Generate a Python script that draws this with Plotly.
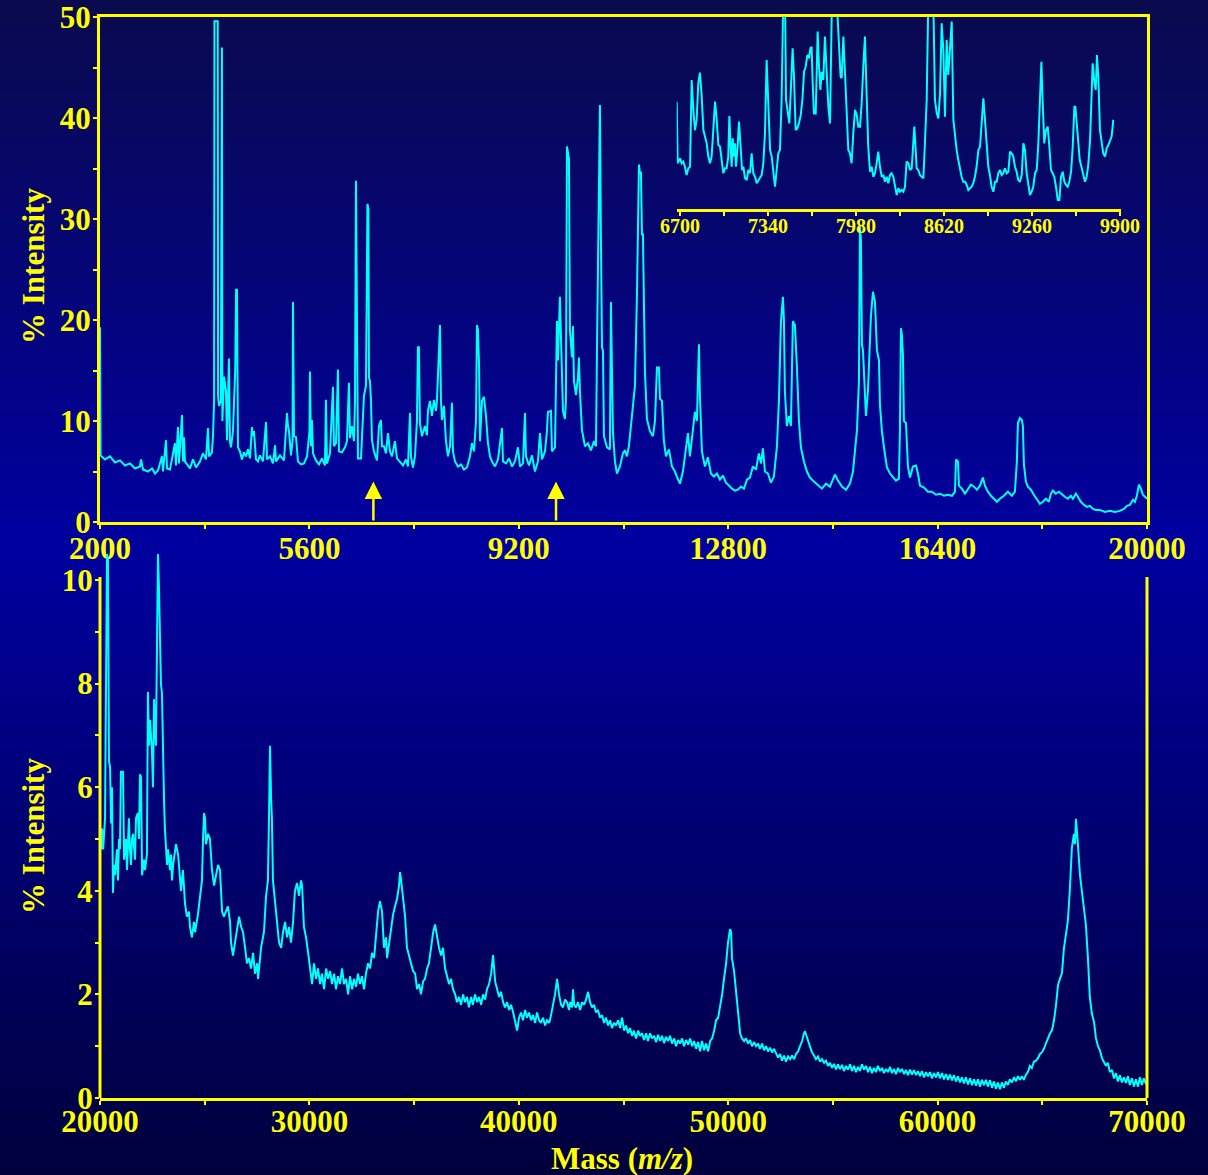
import plotly.graph_objects as go

# ---------------- data ----------------
# Low-mass spectrum, 2000-20000 m/z: (mass, % intensity)
low_mass_spectrum = [
    (2000, 19.3), (2010, 6.6), (2086, 6.2), (2172, 6.5), (2258, 5.9), (2344, 6.1), (2430, 5.6), (2516, 5.8),
    (2602, 5.3), (2688, 5.5), (2705, 6.2), (2739, 5.2), (2825, 5.0), (2894, 5.3), (2946, 4.8), (2997, 5.1),
    (3066, 6.5), (3083, 5.0), (3135, 8.1), (3152, 5.3), (3203, 5.2), (3289, 7.8), (3306, 5.6), (3341, 9.4),
    (3358, 5.8), (3410, 10.6), (3427, 6.0), (3444, 8.4), (3461, 6.0), (3547, 5.3), (3599, 6.2), (3650, 5.4),
    (3719, 6.0), (3771, 6.8), (3822, 6.2), (3857, 9.3), (3874, 6.5), (3925, 6.9), (3943, 8.6), (3962, 12.0),
    (3968, 49.6), (4024, 49.6), (4030, 12.5), (4046, 11.5), (4078, 12.0), (4086, 47.0), (4096, 47.0), (4104, 10.0),
    (4132, 14.4), (4166, 13.0), (4183, 8.1), (4217, 16.2), (4234, 8.0), (4252, 7.4), (4286, 9.0), (4325, 15.0),
    (4340, 23.0), (4355, 23.0), (4372, 7.4), (4406, 7.0), (4441, 6.2), (4475, 6.9), (4510, 6.5), (4544, 7.2),
    (4579, 6.3), (4613, 9.4), (4630, 8.5), (4647, 9.0), (4682, 6.2), (4716, 6.0), (4750, 6.6), (4802, 6.0),
    (4854, 9.9), (4871, 6.2), (4923, 6.5), (4974, 5.8), (5009, 7.6), (5026, 6.0), (5094, 6.6), (5163, 6.1),
    (5215, 10.8), (5232, 9.5), (5249, 9.0), (5284, 6.6), (5310, 8.0), (5318, 21.8), (5335, 8.5), (5370, 8.4),
    (5404, 6.0), (5456, 5.7), (5507, 5.8), (5559, 6.5), (5602, 9.0), (5610, 14.9), (5627, 7.5), (5645, 10.1),
    (5662, 6.8), (5713, 6.1), (5765, 5.7), (5816, 6.3), (5868, 5.6), (5885, 12.1), (5902, 5.8), (5954, 6.8),
    (6005, 13.4), (6022, 7.5), (6057, 7.8), (6091, 15.1), (6108, 7.0), (6160, 6.9), (6212, 7.4), (6246, 8.0),
    (6280, 13.8), (6298, 8.3), (6332, 9.5), (6366, 8.0), (6384, 12.0), (6401, 33.8), (6418, 12.0), (6435, 6.3),
    (6487, 6.3), (6521, 11.8), (6538, 12.5), (6573, 13.5), (6598, 31.5), (6615, 31.0), (6624, 14.3), (6641, 14.0),
    (6659, 12.0), (6676, 8.1), (6710, 7.0), (6762, 6.1), (6796, 9.5), (6830, 10.1), (6848, 7.5), (6882, 7.5),
    (6916, 6.8), (6951, 8.8), (6985, 7.0), (7020, 6.5), (7071, 8.0), (7106, 6.3), (7157, 6.0), (7209, 5.6),
    (7260, 6.2), (7295, 5.5), (7329, 10.8), (7346, 6.5), (7380, 5.4), (7415, 6.5), (7449, 10.0), (7466, 17.3),
    (7483, 17.3), (7500, 9.8), (7535, 8.5), (7586, 9.5), (7621, 8.6), (7638, 11.0), (7673, 12.0), (7707, 10.5),
    (7741, 12.1), (7776, 11.0), (7793, 12.0), (7827, 16.0), (7845, 19.5), (7862, 12.0), (7879, 10.1), (7913, 11.5),
    (7948, 8.0), (7982, 6.5), (8017, 7.5), (8051, 11.8), (8068, 7.0), (8103, 6.0), (8154, 5.5), (8206, 5.7),
    (8258, 5.2), (8309, 5.4), (8361, 6.5), (8395, 7.8), (8430, 7.0), (8464, 10.0), (8481, 19.5), (8498, 19.0),
    (8516, 15.7), (8533, 8.0), (8567, 12.0), (8601, 12.4), (8636, 10.5), (8670, 7.8), (8705, 6.5), (8739, 6.0),
    (8791, 5.5), (8842, 6.2), (8911, 9.3), (8928, 6.0), (8980, 5.8), (9031, 6.3), (9083, 5.5), (9134, 6.0),
    (9186, 7.4), (9220, 5.5), (9272, 5.8), (9306, 10.8), (9323, 6.5), (9375, 5.6), (9426, 6.6), (9478, 5.0),
    (9529, 6.0), (9564, 8.8), (9598, 6.2), (9650, 7.0), (9684, 9.0), (9701, 10.9), (9753, 11.0), (9770, 7.0),
    (9822, 7.4), (9856, 19.9), (9873, 16.0), (9907, 22.3), (9924, 19.0), (9942, 16.6), (9959, 11.0), (9993, 10.2),
    (10010, 12.0), (10028, 37.2), (10045, 36.3), (10062, 36.0), (10079, 19.0), (10114, 16.3), (10131, 19.4),
    (10148, 14.0), (10183, 12.6), (10217, 14.3), (10234, 16.3), (10251, 13.0), (10286, 9.1), (10338, 7.5),
    (10389, 7.8), (10441, 7.1), (10492, 8.0), (10527, 7.5), (10544, 17.0), (10561, 24.0), (10578, 30.0),
    (10595, 41.3), (10612, 28.0), (10630, 17.3), (10647, 17.0), (10664, 8.5), (10716, 7.4), (10767, 7.2),
    (10784, 21.8), (10801, 15.9), (10818, 9.0), (10853, 6.0), (10887, 4.8), (10939, 5.5), (10990, 6.8),
    (11025, 7.1), (11059, 6.5), (11093, 7.5), (11128, 9.5), (11162, 10.9), (11197, 13.5), (11231, 22.4),
    (11266, 35.4), (11283, 34.5), (11300, 34.7), (11317, 28.5), (11334, 28.5), (11369, 14.9), (11403, 10.2),
    (11455, 9.0), (11506, 8.5), (11541, 10.0), (11575, 15.3), (11609, 15.3), (11627, 12.2), (11661, 12.0),
    (11695, 8.0), (11730, 6.5), (11781, 7.2), (11833, 5.5), (11884, 5.0), (11918, 4.5), (11970, 3.8),
    (12022, 5.0), (12073, 7.0), (12108, 8.8), (12142, 6.5), (12194, 9.5), (12228, 10.9), (12262, 10.0),
    (12297, 17.6), (12314, 12.5), (12348, 7.0), (12400, 5.5), (12452, 6.4), (12503, 4.8), (12555, 4.5),
    (12606, 4.8), (12658, 4.2), (12710, 4.6), (12761, 3.9), (12813, 3.6), (12864, 3.3), (12916, 3.1),
    (12967, 3.2), (13019, 3.5), (13071, 3.3), (13122, 4.2), (13174, 4.4), (13225, 5.5), (13277, 5.2),
    (13328, 6.8), (13363, 5.8), (13397, 7.3), (13432, 5.0), (13483, 4.8), (13535, 3.9), (13586, 4.5),
    (13638, 7.5), (13672, 12.0), (13706, 19.7), (13741, 22.3), (13758, 20.0), (13775, 12.9), (13809, 9.5),
    (13844, 10.5), (13878, 9.5), (13912, 19.9), (13947, 19.5), (13981, 15.4), (14016, 10.0), (14050, 7.4),
    (14102, 6.0), (14153, 5.0), (14205, 4.4), (14274, 4.0), (14343, 3.6), (14412, 3.3), (14481, 3.8),
    (14549, 3.5), (14600, 4.2), (14635, 4.7), (14687, 4.1), (14756, 3.5), (14825, 3.2), (14893, 3.8),
    (14945, 5.0), (14979, 7.0), (15014, 9.1), (15048, 14.0), (15065, 29.2), (15082, 28.0), (15099, 17.6),
    (15117, 17.0), (15151, 12.0), (15168, 10.5), (15203, 13.0), (15237, 17.0), (15254, 20.4), (15289, 22.8),
    (15323, 21.8), (15357, 17.0), (15392, 16.0), (15409, 11.6), (15443, 9.0), (15478, 7.4), (15529, 5.4),
    (15581, 4.8), (15632, 4.4), (15684, 4.1), (15735, 4.3), (15752, 9.0), (15770, 19.2), (15787, 18.5),
    (15804, 16.6), (15821, 10.0), (15856, 9.8), (15873, 7.0), (15890, 5.5), (15925, 4.4), (15976, 5.5),
    (16028, 5.6), (16062, 4.8), (16097, 3.6), (16166, 3.4), (16234, 3.0), (16303, 3.0), (16372, 2.7),
    (16441, 2.8), (16510, 2.6), (16578, 2.7), (16647, 2.6), (16699, 3.0), (16716, 6.2), (16750, 6.0),
    (16767, 3.6), (16819, 3.3), (16870, 2.8), (16922, 3.2), (16973, 3.7), (17025, 3.5), (17076, 3.2),
    (17128, 3.6), (17179, 4.4), (17214, 3.6), (17265, 3.0), (17317, 2.6), (17368, 2.3), (17420, 2.0),
    (17471, 2.3), (17540, 2.6), (17609, 3.0), (17677, 2.6), (17729, 3.0), (17763, 6.0), (17781, 9.8),
    (17815, 10.3), (17849, 10.1), (17866, 9.5), (17884, 5.7), (17918, 4.0), (17952, 3.5), (18004, 3.2),
    (18055, 2.7), (18107, 2.3), (18159, 1.8), (18210, 2.0), (18262, 2.3), (18313, 2.0), (18348, 2.8),
    (18382, 3.1), (18433, 2.8), (18485, 3.0), (18537, 2.7), (18588, 2.5), (18640, 2.3), (18691, 2.6),
    (18726, 2.3), (18777, 2.8), (18812, 2.5), (18863, 2.0), (18915, 1.7), (18966, 1.5), (19018, 1.6),
    (19070, 1.3), (19121, 1.2), (19190, 1.2), (19276, 1.0), (19362, 1.1), (19448, 1.0), (19534, 1.1),
    (19603, 1.3), (19655, 1.6), (19706, 1.7), (19758, 2.2), (19792, 2.0), (19826, 2.6), (19861, 3.7),
    (19895, 3.3), (19930, 2.7), (19964, 2.5), (20000, 2.3),
]

# Expanded view of the 6700-9900 m/z window: (mass, relative intensity)
inset_spectrum = [
    (6676, 55.9), (6683, 23.8), (6700, 26.4), (6712, 23.8), (6724, 24.7), (6736, 22.0), (6748, 17.7),
    (6761, 21.2), (6773, 22.0), (6785, 67.2), (6797, 51.6), (6809, 41.1), (6821, 46.4), (6833, 65.5),
    (6845, 71.0), (6858, 58.5), (6870, 41.1), (6882, 37.7), (6894, 34.2), (6906, 27.3), (6918, 23.8),
    (6930, 27.3), (6942, 39.4), (6955, 55.9), (6967, 46.4), (6979, 33.3), (6991, 32.5), (7003, 25.5),
    (7015, 18.6), (7027, 21.2), (7039, 21.2), (7051, 27.3), (7059, 48.4), (7068, 32.5), (7076, 22.0),
    (7083, 36.8), (7093, 27.3), (7100, 34.2), (7107, 22.0), (7119, 32.5), (7129, 45.5), (7141, 32.5),
    (7151, 20.3), (7161, 22.0), (7173, 16.0), (7185, 15.1), (7197, 20.3), (7209, 18.6), (7221, 29.0),
    (7233, 18.6), (7246, 16.8), (7258, 13.4), (7270, 15.1), (7282, 16.8), (7294, 17.7), (7306, 23.8),
    (7318, 39.4), (7330, 77.6), (7343, 49.8), (7355, 30.7), (7367, 27.3), (7379, 18.6), (7391, 11.6),
    (7403, 20.3), (7415, 29.0), (7427, 30.7), (7439, 56.8), (7451, 110), (7464, 110), (7471, 56.8),
    (7483, 51.6), (7495, 44.6), (7505, 60.2), (7519, 83.7), (7529, 68.9), (7541, 41.1), (7553, 42.0),
    (7565, 44.6), (7578, 49.0), (7590, 56.8), (7602, 71.5), (7614, 74.1), (7626, 80.2), (7638, 78.5),
    (7648, 83.7), (7657, 84.5), (7665, 65.5), (7674, 49.8), (7687, 49.8), (7694, 74.1), (7701, 92.4),
    (7711, 74.1), (7721, 62.0), (7730, 71.5), (7742, 67.2), (7754, 89.8), (7767, 72.4), (7779, 53.3),
    (7791, 44.6), (7798, 74.1), (7805, 110), (7839, 110), (7856, 88.0), (7868, 68.9), (7876, 68.1),
    (7888, 89.8), (7900, 70.7), (7912, 48.1), (7924, 30.7), (7936, 29.0), (7948, 23.8), (7960, 39.4),
    (7973, 51.6), (7985, 49.0), (7997, 42.9), (8009, 42.9), (8021, 55.0), (8033, 74.1), (8045, 89.8),
    (8057, 60.2), (8069, 32.5), (8082, 19.4), (8094, 22.0), (8106, 16.8), (8118, 18.6), (8130, 23.8),
    (8142, 29.9), (8154, 22.0), (8167, 16.8), (8179, 17.7), (8191, 14.2), (8203, 16.8), (8215, 13.4),
    (8227, 17.7), (8239, 18.6), (8251, 16.8), (8264, 12.5), (8276, 7.3), (8288, 10.8), (8300, 9.0),
    (8312, 9.9), (8324, 9.0), (8336, 11.6), (8348, 24.7), (8361, 23.8), (8373, 20.3), (8385, 21.2),
    (8397, 32.5), (8404, 42.9), (8414, 30.7), (8421, 21.2), (8433, 20.3), (8445, 17.7), (8458, 16.8),
    (8470, 16.0), (8482, 35.9), (8494, 56.8), (8506, 110), (8542, 110), (8554, 56.8), (8567, 49.8),
    (8579, 47.2), (8591, 60.2), (8603, 96.7), (8615, 82.8), (8627, 48.1), (8639, 88.0), (8651, 69.8),
    (8663, 86.3), (8676, 97.6), (8688, 46.4), (8700, 37.7), (8712, 30.7), (8724, 25.5), (8736, 20.3),
    (8748, 16.8), (8760, 14.2), (8773, 14.2), (8785, 12.5), (8797, 9.9), (8809, 10.8), (8821, 11.6),
    (8833, 13.4), (8845, 16.8), (8857, 22.0), (8870, 30.7), (8882, 32.5), (8894, 42.9), (8906, 57.6),
    (8918, 46.4), (8930, 30.7), (8942, 22.0), (8954, 17.7), (8966, 11.6), (8979, 9.0), (8991, 14.2),
    (9003, 14.2), (9015, 18.6), (9027, 20.3), (9039, 17.7), (9051, 18.6), (9063, 21.2), (9076, 18.6),
    (9088, 19.4), (9100, 29.9), (9112, 29.0), (9124, 27.3), (9136, 22.0), (9148, 19.4), (9160, 15.1),
    (9172, 14.2), (9185, 17.7), (9197, 34.2), (9209, 30.7), (9221, 18.6), (9233, 12.5), (9245, 7.3),
    (9257, 9.0), (9269, 11.6), (9282, 18.6), (9294, 20.3), (9306, 34.2), (9318, 56.8), (9328, 76.7),
    (9337, 56.8), (9349, 34.2), (9361, 41.1), (9374, 42.9), (9386, 32.5), (9398, 20.3), (9410, 18.6),
    (9422, 16.8), (9434, 11.6), (9447, 4.7), (9459, 4.7), (9471, 16.8), (9483, 19.4), (9495, 14.2),
    (9507, 12.5), (9519, 11.6), (9531, 14.2), (9544, 19.4), (9556, 32.5), (9568, 53.3), (9575, 53.3),
    (9585, 42.9), (9597, 30.7), (9607, 25.5), (9619, 22.0), (9633, 17.7), (9645, 14.2), (9657, 16.8),
    (9669, 22.9), (9682, 35.9), (9694, 56.8), (9701, 75.9), (9713, 66.3), (9723, 62.0), (9732, 80.2),
    (9742, 68.9), (9754, 41.1), (9766, 35.9), (9778, 29.0), (9791, 27.3), (9803, 31.6), (9815, 33.3),
    (9827, 35.9), (9839, 37.7), (9851, 46.4),
]

# High-mass spectrum, 20000-70000 m/z: (mass, % intensity)
high_mass_spectrum = [
    (20000, 5.2), (20050, 4.8), (20100, 5.2), (20150, 4.8), (20240, 5.4), (20290, 9.0), (20335, 10.5),
    (20380, 10.4), (20430, 6.5), (20480, 6.4), (20530, 5.3), (20575, 6.0), (20620, 3.96), (20670, 4.5),
    (20720, 4.3), (20810, 4.8), (20860, 4.2), (20910, 5.0), (20955, 4.8), (21000, 6.3), (21100, 6.3),
    (21150, 4.6), (21240, 5.0), (21290, 4.4), (21380, 5.4), (21430, 4.8), (21480, 4.5), (21530, 5.0),
    (21580, 5.1), (21670, 4.6), (21720, 5.4), (21810, 5.5), (21860, 5.0), (21910, 6.25), (21960, 6.2),
    (22010, 4.3), (22100, 4.6), (22150, 4.4), (22240, 4.7), (22290, 7.84), (22340, 6.8), (22390, 7.3),
    (22480, 6.7), (22530, 6.0), (22580, 7.7), (22670, 6.8), (22720, 8.6), (22770, 10.5), (22820, 9.8),
    (22860, 8.55), (22910, 8.0), (22960, 7.8), (23010, 6.3), (23060, 5.7), (23100, 5.2), (23200, 4.5),
    (23250, 4.8), (23340, 4.4), (23390, 4.7), (23440, 4.2), (23490, 4.5), (23580, 4.8), (23630, 4.9),
    (23730, 4.7), (23820, 4.3), (23870, 4.0), (23960, 4.4), (24060, 3.75), (24150, 3.5), (24250, 3.6),
    (24300, 3.3), (24390, 3.1), (24490, 3.4), (24540, 3.2), (24680, 3.55), (24780, 3.9), (24870, 4.2),
    (24920, 5.0), (24970, 5.5), (25020, 5.4), (25060, 4.9), (25160, 5.1), (25250, 5.0), (25350, 4.4),
    (25450, 4.1), (25540, 4.3), (25640, 4.5), (25730, 4.4), (25830, 3.6), (25920, 3.5), (26020, 3.6),
    (26110, 3.7), (26210, 3.4), (26260, 3.0), (26350, 2.75), (26450, 3.0), (26540, 3.2), (26640, 3.5),
    (26740, 3.3), (26830, 3.2), (26930, 2.9), (27020, 2.6), (27120, 2.7), (27210, 2.5), (27310, 2.8),
    (27400, 2.4), (27500, 2.6), (27550, 2.3), (27690, 2.9), (27830, 3.2), (27930, 3.9), (28020, 4.2),
    (28070, 5.4), (28120, 6.8), (28170, 5.8), (28210, 5.4), (28260, 4.2), (28360, 3.8), (28450, 3.4),
    (28550, 3.0), (28650, 2.9), (28740, 3.2), (28840, 3.4), (28930, 3.1), (29030, 3.3), (29120, 3.0),
    (29220, 3.4), (29310, 4.0), (29410, 4.15), (29500, 3.9), (29600, 4.2), (29650, 4.1), (29740, 3.3),
    (29840, 3.1), (29940, 2.8), (30030, 2.5), (30130, 2.2), (30220, 2.6), (30320, 2.3), (30410, 2.5),
    (30510, 2.2), (30600, 2.4), (30700, 2.1), (30800, 2.5), (30890, 2.3), (30990, 2.45), (31080, 2.2),
    (31180, 2.4), (31270, 2.1), (31370, 2.35), (31460, 2.2), (31560, 2.5), (31650, 2.2), (31750, 2.3),
    (31850, 2.0), (31940, 2.35), (32040, 2.1), (32130, 2.3), (32230, 2.15), (32320, 2.4), (32420, 2.2),
    (32510, 2.35), (32610, 2.1), (32700, 2.4), (32800, 2.6), (32900, 2.5), (32990, 2.8), (33090, 2.7),
    (33180, 3.1), (33280, 3.6), (33370, 3.8), (33470, 3.6), (33560, 2.9), (33660, 3.1), (33710, 2.7),
    (33800, 3.0), (33900, 3.3), (34000, 3.55), (34090, 3.7), (34190, 3.85), (34280, 4.1), (34330, 4.36),
    (34380, 4.2), (34470, 3.9), (34570, 3.5), (34660, 2.9), (34760, 2.75), (34860, 2.55), (34950, 2.45),
    (35050, 2.4), (35140, 2.1), (35240, 2.2), (35330, 2.0), (35430, 2.25), (35520, 2.3), (35620, 2.5),
    (35710, 2.6), (35810, 2.9), (35910, 3.2), (36000, 3.35), (36100, 3.1), (36190, 2.9), (36290, 2.75),
    (36380, 2.9), (36480, 2.5), (36570, 2.35), (36670, 2.2), (36760, 2.3), (36860, 2.1), (36960, 2.0),
    (37050, 1.85), (37150, 1.95), (37240, 1.8), (37340, 2.0), (37430, 1.85), (37530, 1.95), (37620, 1.75),
    (37720, 1.95), (37810, 1.8), (37910, 2.0), (38010, 1.85), (38100, 1.95), (38200, 1.8), (38290, 2.0),
    (38390, 1.9), (38480, 2.1), (38580, 2.2), (38680, 2.4), (38770, 2.76), (38870, 2.25), (38960, 2.1),
    (39060, 1.95), (39150, 2.05), (39250, 1.85), (39340, 1.75), (39440, 1.85), (39540, 1.7), (39630, 1.8),
    (39730, 1.65), (39820, 1.45), (39920, 1.3), (40010, 1.55), (40110, 1.65), (40200, 1.5), (40300, 1.7),
    (40390, 1.55), (40490, 1.65), (40590, 1.5), (40680, 1.6), (40780, 1.45), (40870, 1.65), (40970, 1.5),
    (41060, 1.45), (41160, 1.55), (41250, 1.4), (41350, 1.5), (41450, 1.45), (41540, 1.6), (41640, 1.8),
    (41730, 2.0), (41830, 2.3), (41920, 2.0), (42020, 1.8), (42110, 1.75), (42210, 1.9), (42300, 1.85),
    (42400, 1.7), (42450, 1.85), (42540, 1.75), (42590, 2.1), (42640, 1.8), (42730, 1.75), (42830, 1.85),
    (42930, 1.7), (43020, 1.85), (43120, 1.8), (43210, 1.9), (43310, 2.05), (43400, 1.85), (43500, 1.75),
    (43590, 1.8), (43690, 1.65), (43780, 1.7), (43880, 1.55), (43980, 1.6), (44070, 1.45), (44170, 1.55),
    (44260, 1.4), (44360, 1.5), (44450, 1.35), (44550, 1.45), (44640, 1.4), (44740, 1.5), (44840, 1.35),
    (44930, 1.55), (45030, 1.3), (45120, 1.4), (45220, 1.25), (45310, 1.35), (45410, 1.2), (45500, 1.3),
    (45600, 1.15), (45700, 1.3), (45790, 1.2), (45890, 1.25), (45980, 1.12), (46080, 1.25), (46170, 1.1),
    (46270, 1.25), (46360, 1.15), (46460, 1.2), (46560, 1.08), (46650, 1.22), (46750, 1.1), (46840, 1.2),
    (46940, 1.06), (47030, 1.18), (47130, 1.1), (47220, 1.2), (47320, 1.05), (47420, 1.15), (47510, 1.0),
    (47610, 1.12), (47700, 1.05), (47800, 1.15), (47890, 1.0), (47990, 1.12), (48090, 1.03), (48180, 1.15),
    (48280, 1.0), (48370, 1.1), (48470, 0.95), (48560, 1.08), (48660, 0.9), (48750, 1.1), (48850, 0.92),
    (48940, 1.05), (49040, 0.9), (49140, 1.1), (49230, 1.15), (49330, 1.3), (49420, 1.5), (49520, 1.55),
    (49610, 1.75), (49710, 2.0), (49800, 2.3), (49900, 2.6), (49990, 3.0), (50090, 3.26), (50140, 3.2),
    (50180, 2.7), (50280, 2.45), (50380, 2.0), (50470, 1.6), (50570, 1.25), (50660, 1.15), (50760, 1.1),
    (50850, 1.15), (50950, 1.05), (51040, 1.12), (51140, 1.0), (51240, 1.08), (51330, 1.0), (51430, 1.05),
    (51520, 0.95), (51620, 1.05), (51710, 0.92), (51810, 1.0), (51900, 0.9), (52000, 0.97), (52100, 0.88),
    (52190, 0.95), (52290, 0.85), (52380, 0.78), (52480, 0.85), (52570, 0.72), (52670, 0.82), (52760, 0.7),
    (52860, 0.8), (52960, 0.75), (53050, 0.82), (53150, 0.75), (53240, 0.85), (53340, 0.9), (53430, 1.0),
    (53530, 1.1), (53620, 1.25), (53670, 1.29), (53720, 1.22), (53810, 1.1), (53910, 0.95), (54000, 0.88),
    (54100, 0.82), (54190, 0.75), (54290, 0.8), (54390, 0.7), (54480, 0.75), (54580, 0.68), (54670, 0.72),
    (54770, 0.62), (54860, 0.68), (54960, 0.58), (55050, 0.66), (55150, 0.55), (55240, 0.65), (55340, 0.56),
    (55440, 0.64), (55530, 0.52), (55630, 0.62), (55720, 0.55), (55820, 0.65), (55910, 0.52), (56010, 0.62),
    (56100, 0.5), (56200, 0.6), (56290, 0.52), (56390, 0.65), (56490, 0.55), (56580, 0.62), (56680, 0.5),
    (56770, 0.6), (56870, 0.48), (56960, 0.58), (57060, 0.5), (57150, 0.62), (57250, 0.52), (57350, 0.58),
    (57440, 0.48), (57540, 0.56), (57630, 0.5), (57730, 0.6), (57820, 0.48), (57920, 0.56), (58010, 0.46),
    (58110, 0.58), (58200, 0.5), (58300, 0.56), (58400, 0.46), (58490, 0.54), (58590, 0.44), (58680, 0.55),
    (58780, 0.45), (58870, 0.54), (58970, 0.44), (59060, 0.52), (59160, 0.42), (59250, 0.52), (59350, 0.4),
    (59450, 0.5), (59540, 0.42), (59640, 0.5), (59730, 0.38), (59830, 0.48), (59920, 0.4), (60020, 0.5),
    (60110, 0.38), (60210, 0.48), (60300, 0.36), (60400, 0.46), (60500, 0.35), (60590, 0.45), (60690, 0.34),
    (60780, 0.44), (60880, 0.32), (60970, 0.42), (61070, 0.3), (61160, 0.4), (61260, 0.28), (61350, 0.4),
    (61450, 0.26), (61550, 0.38), (61640, 0.25), (61740, 0.36), (61830, 0.24), (61930, 0.36), (62020, 0.22),
    (62120, 0.35), (62210, 0.25), (62310, 0.35), (62400, 0.22), (62500, 0.34), (62600, 0.2), (62690, 0.32),
    (62790, 0.18), (62880, 0.3), (62980, 0.17), (63070, 0.3), (63170, 0.2), (63260, 0.32), (63360, 0.25),
    (63450, 0.36), (63550, 0.3), (63650, 0.4), (63740, 0.32), (63840, 0.42), (63930, 0.35), (64030, 0.42),
    (64120, 0.35), (64220, 0.45), (64310, 0.5), (64410, 0.62), (64500, 0.58), (64600, 0.7), (64700, 0.72),
    (64790, 0.77), (64890, 0.85), (64980, 0.88), (65080, 0.95), (65170, 1.05), (65270, 1.16), (65360, 1.24),
    (65460, 1.3), (65560, 1.5), (65650, 1.78), (65750, 2.18), (65840, 2.3), (65940, 2.41), (66030, 2.88),
    (66130, 3.2), (66220, 3.42), (66320, 4.05), (66410, 4.82), (66510, 5.1), (66560, 4.9), (66610, 5.39),
    (66650, 5.2), (66700, 4.9), (66800, 4.3), (66890, 4.0), (66990, 3.7), (67080, 3.35), (67180, 2.7),
    (67270, 1.95), (67370, 1.62), (67470, 1.47), (67560, 1.16), (67660, 1.0), (67750, 0.92), (67850, 0.77),
    (67940, 0.7), (68040, 0.62), (68130, 0.68), (68230, 0.5), (68330, 0.54), (68420, 0.38), (68520, 0.48),
    (68610, 0.32), (68710, 0.44), (68800, 0.3), (68900, 0.4), (68990, 0.29), (69090, 0.42), (69180, 0.25),
    (69280, 0.38), (69380, 0.22), (69470, 0.36), (69570, 0.22), (69660, 0.4), (69760, 0.25), (69850, 0.38),
    (69950, 0.27), (70000, 0.33),
]

low_ticks = [2000, 5600, 9200, 12800, 16400, 20000]
inset_ticks = [6700, 7340, 7980, 8620, 9260, 9900]
high_ticks = [20000, 30000, 40000, 50000, 60000, 70000]
low_y_ticks = [0, 10, 20, 30, 40, 50]
high_y_ticks = [0, 2, 4, 6, 8, 10]
high_frame_top = 10.06         # the high-mass frame stops just above the 10 % tick
window_arrows = [6700, 9840]   # bounds of the expanded window, marked on the low-mass axis

# ---------------- style ----------------
W, H = 1208, 1175
YELLOW = "#FFFF00"
CYAN = "#00FFFF"
SERIF = "Liberation Serif, Times New Roman, serif"


def fx(p):
    return p / W


def fy(p):
    return 1 - p / H


low_m, low_i = zip(*low_mass_spectrum)
ins_m, ins_i = zip(*inset_spectrum)
high_m, high_i = zip(*high_mass_spectrum)

fig = go.Figure()
line_style = dict(color=CYAN, width=2)
fig.add_trace(go.Scatter(x=low_m, y=low_i, mode="lines", line=line_style, xaxis="x", yaxis="y",
                         hoverinfo="skip"))
fig.add_trace(go.Scatter(x=ins_m, y=ins_i, mode="lines", line=line_style, xaxis="x2", yaxis="y2",
                         hoverinfo="skip"))
fig.add_trace(go.Scatter(x=high_m, y=high_i, mode="lines", line=line_style, xaxis="x3", yaxis="y3",
                         hoverinfo="skip"))

tick_font = dict(family=SERIF, size=31, color=YELLOW, weight="bold")
small_font = dict(family=SERIF, size=20, color=YELLOW, weight="bold")


def axis(**kw):
    base = dict(showline=True, linecolor=YELLOW, linewidth=3, ticks="outside", ticklen=4,
                tickwidth=2, tickcolor=YELLOW, showgrid=False, zeroline=False, tickfont=tick_font,
                fixedrange=True, automargin=False)
    base.update(kw)
    return base


def minor(step, start):
    return dict(tick0=start, dtick=step, ticks="outside", ticklen=4, tickwidth=2,
                tickcolor=YELLOW, showgrid=False)


X0, X1 = fx(100), fx(1147)
# the high-mass plotting area reaches higher than its frame so the tallest peaks are not cut
high_top_px = 540
high_range_top = (1098 - high_top_px) / 51.8

fig.update_layout(
    xaxis=axis(domain=[X0, X1], range=[2000, 20000], anchor="y", mirror=True,
               tickvals=low_ticks, ticktext=[str(t) for t in low_ticks], minor=minor(1800, 2000),
               ticklabelstandoff=-7),
    yaxis=axis(domain=[fy(522), fy(17)], range=[0, 50.02], anchor="x", mirror=True,
               tickvals=low_y_ticks, minor=minor(5, 0), ticklabelstandoff=-4),
    xaxis2=axis(domain=[fx(676.7), fx(1121)], range=[6676, 9907], anchor="y2",
                tickvals=inset_ticks, ticktext=[str(t) for t in inset_ticks], tickfont=small_font,
                ticklen=3, minor=minor(320, 6700), ticklabelstandoff=-6),
    yaxis2=dict(domain=[fy(209), fy(17)], range=[0, 100], anchor="x2", visible=False,
                fixedrange=True),
    xaxis3=axis(domain=[X0, X1], range=[20000, 70000], anchor="y3",
                tickvals=high_ticks, ticktext=[str(t) for t in high_ticks], minor=minor(5000, 20000),
                ticklabelstandoff=-10),
    yaxis3=axis(domain=[fy(1098), fy(high_top_px)], range=[0, high_range_top], anchor="x3",
                showline=False, tickvals=high_y_ticks, minor=minor(1, 0), ticklabelstandoff=-4),
)

# vertical background gradient built from thin bands
stops = [(0, (10, 10, 78)), (545, (0, 0, 160)), (1175, (0, 0, 60))]


def grad(p):
    for (p0, c0), (p1, c1) in zip(stops, stops[1:]):
        if p0 <= p <= p1:
            t = (p - p0) / (p1 - p0)
            return "rgb(%d,%d,%d)" % tuple(round(a + (b - a) * t) for a, b in zip(c0, c1))
    return "rgb(%d,%d,%d)" % stops[-1][1]


shapes = []
band = 5
for top in range(0, H, band):
    shapes.append(dict(type="rect", xref="paper", yref="paper", x0=0, x1=1,
                       y0=fy(min(top + band + 1, H)), y1=fy(top), fillcolor=grad(top + band / 2),
                       line=dict(width=0), layer="below"))

# left and right frame lines of the high-mass panel (paper x so the full width is kept)
for xp in (X0, X1):
    shapes.append(dict(type="line", xref="paper", yref="y3", x0=xp, x1=xp, y0=-0.03,
                       y1=high_frame_top, line=dict(color=YELLOW, width=3), layer="above"))

annotations = [
    dict(text="% Intensity", x=fx(33), y=fy(266), xref="paper", yref="paper", showarrow=False,
         textangle=-90, font=tick_font, xanchor="center", yanchor="middle"),
    dict(text="% Intensity", x=fx(33), y=fy(836), xref="paper", yref="paper", showarrow=False,
         textangle=-90, font=tick_font, xanchor="center", yanchor="middle"),
    dict(text="Mass (<i>m/z</i>)", x=fx(622), y=fy(1158), xref="paper", yref="paper",
         showarrow=False, font=tick_font, xanchor="center", yanchor="middle"),
]
for m in window_arrows:
    annotations.append(dict(x=m, y=4.0, xref="x", yref="y", ax=m, ay=0, axref="x", ayref="y",
                            text="", showarrow=True, arrowhead=2, arrowsize=1.4, arrowwidth=2.5,
                            arrowcolor=YELLOW))

fig.update_layout(
    width=W, height=H, margin=dict(l=0, r=0, t=0, b=0, pad=0, autoexpand=False),
    paper_bgcolor="rgb(0,0,60)", plot_bgcolor="rgba(0,0,0,0)",
    showlegend=False, shapes=shapes, annotations=annotations,
)

fig.write_html("out.html")
